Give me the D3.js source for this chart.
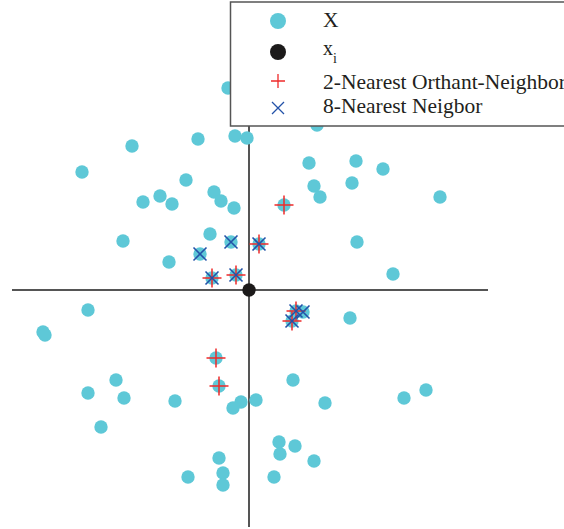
<!DOCTYPE html>
<html><head><meta charset="utf-8">
<script src="https://cdn.jsdelivr.net/npm/d3@7"></script>
<style>html,body{margin:0;padding:0;background:#fff;overflow:hidden}</style>
</head><body>
<svg id="chart" width="564" height="529"></svg>
<script>
// All samples X
const pointsX = [-1.17,-0.51,-0.14,-0.02,-1.67,-0.63,-0.35,-0.28,-0.15,-1.06,-0.89,-0.77,-0.39,-1.26,-0.80,-0.18,-0.49,0.10,-0.37,-0.13,
  0.68,0.60,1.07,1.34,0.65,0.71,1.03,1.91,1.08,1.44,0.35,-1.61,-2.06,-2.04,-0.33,-0.30,-1.33,-1.61,-1.25,-0.74,-0.08,-0.16,0.07,-1.48,
  -0.30,-0.26,-0.26,-0.61,0.30,0.31,0.25,0.47,0.54,0.43,1.01,0.44,0.76,1.55,1.77,0.46,0.65,-0.21];
const pointsY = [1.44,1.51,1.54,1.52,1.18,1.10,0.98,0.89,0.82,0.88,0.94,0.86,0.56,0.49,0.28,0.48,0.36,0.46,0.12,0.15,
  1.65,1.27,1.29,1.21,1.04,0.93,1.07,0.93,0.48,0.16,0.85,-0.20,-0.42,-0.45,-0.68,-0.96,-0.90,-1.03,-1.08,-1.11,-1.12,-1.18,-1.10,-1.37,
  -1.68,-1.83,-1.95,-1.87,-1.52,-1.64,-1.87,-0.21,-0.22,-0.31,-0.28,-0.90,-1.13,-1.08,-1.00,-1.56,-1.71,2.02];
// query point x_i
const queryX = [0];
const queryY = [0];
// 2-nearest orthant neighbors
const orthX = [0.35,0.10,-0.37,-0.13,-0.33,-0.30,0.47,0.43];
const orthY = [0.85,0.46,0.12,0.15,-0.68,-0.96,-0.21,-0.31];
// 8-nearest neighbors
const knnX = [-0.18,-0.49,0.10,-0.37,-0.13,0.47,0.54,0.43];
const knnY = [0.48,0.36,0.46,0.12,0.15,-0.21,-0.22,-0.31];
const legendLabels = ["X", "x", "2-Nearest Orthant-Neighbor", "8-Nearest Neigbor"];

const cyan = "#5ec8d7", red = "#ee2a2a", blue = "#2352a8", axisCol = "#555";
const svg = d3.select("#chart");
const x = d3.scaleLinear().domain([-2.37, 2.39]).range([12, 488]);
const y = d3.scaleLinear().domain([2.38, -2.37]).range([52, 527]);

// axes through origin
svg.append("line").attr("x1", x(-2.37)).attr("x2", x(2.39)).attr("y1", y(0)).attr("y2", y(0))
  .attr("stroke", axisCol).attr("stroke-width", 2);
svg.append("line").attr("x1", x(0)).attr("x2", x(0)).attr("y1", y(2.38)).attr("y2", y(-2.37))
  .attr("stroke", axisCol).attr("stroke-width", 2);

svg.append("g").selectAll("circle").data(pointsX).join("circle")
  .attr("cx", d => x(d)).attr("cy", (d, i) => y(pointsY[i])).attr("r", 6.7).attr("fill", cyan);

svg.append("g").selectAll("circle").data(queryX).join("circle")
  .attr("cx", d => x(d)).attr("cy", (d, i) => y(queryY[i])).attr("r", 6.7).attr("fill", "#1c1a1a");

function plusPath(s) { return `M${-s},0H${s}M0,${-s}V${s}`; }
function crossPath(s) { return `M${-s},${-s}L${s},${s}M${-s},${s}L${s},${-s}`; }

svg.append("g").selectAll("path").data(orthX).join("path")
  .attr("transform", (d, i) => `translate(${x(d)},${y(orthY[i])})`)
  .attr("d", plusPath(9.5)).attr("stroke", red).attr("stroke-width", 1.5).attr("fill", "none");

svg.append("g").selectAll("path").data(knnX).join("path")
  .attr("transform", (d, i) => `translate(${x(d)},${y(knnY[i])})`)
  .attr("d", crossPath(6.5)).attr("stroke", blue).attr("stroke-width", 1.6).attr("fill", "none");

// legend
const lg = svg.append("g");
lg.append("rect").attr("x", 230.5).attr("y", 2).attr("width", 400).attr("height", 124)
  .attr("fill", "#fff").attr("stroke", axisCol).attr("stroke-width", 1.5);
const mx = 278;
lg.append("circle").attr("cx", mx).attr("cy", 21).attr("r", 8).attr("fill", cyan);
lg.append("circle").attr("cx", mx).attr("cy", 52).attr("r", 8).attr("fill", "#1c1a1a");
lg.append("path").attr("transform", `translate(${mx},81)`).attr("d", plusPath(7))
  .attr("stroke", red).attr("stroke-width", 1.3).attr("fill", "none");
lg.append("path").attr("transform", `translate(${mx},108)`).attr("d", crossPath(6))
  .attr("stroke", blue).attr("stroke-width", 1.3).attr("fill", "none");
const tf = "'Liberation Serif', 'Times New Roman', serif";
lg.append("text").attr("x", 323).attr("y", 27).text(legendLabels[0])
  .attr("font-family", tf).attr("font-size", 21.5).attr("fill", "#231f20");
const xi = lg.append("text").attr("x", 323).attr("y", 55)
  .attr("font-family", tf).attr("font-size", 20).attr("fill", "#231f20");
xi.append("tspan").text(legendLabels[1]);
xi.append("tspan").attr("x", 333).attr("y", 63).attr("font-size", 14).text("i");
lg.append("text").attr("x", 323).attr("y", 89).text(legendLabels[2])
  .attr("font-family", tf).attr("font-size", 21.5).attr("fill", "#231f20");
lg.append("text").attr("x", 323).attr("y", 113).text(legendLabels[3])
  .attr("font-family", tf).attr("font-size", 21.5).attr("fill", "#231f20");
</script>
</body></html>
